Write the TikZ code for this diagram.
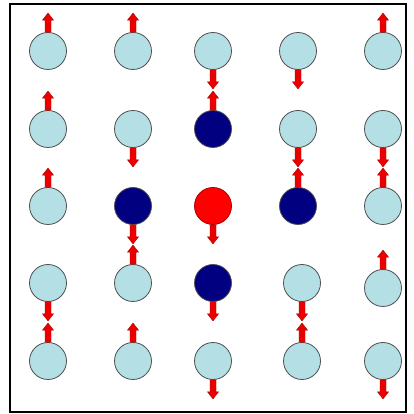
\documentclass[tikz,border=0pt]{standalone}
\usetikzlibrary{calc}
\definecolor{spinblue}{RGB}{180,223,228}
\definecolor{ringgrey}{RGB}{80,80,80}
\definecolor{navyspin}{RGB}{0,0,128}
\definecolor{arrred}{RGB}{235,0,0}
\definecolor{arredge}{RGB}{170,0,0}
\tikzset{
  site/.style={circle, draw=ringgrey, line width=0.8pt, fill=spinblue, minimum size=37pt, inner sep=0pt},
  dsite/.style={site, fill=navyspin},
  csite/.style={site, fill=red, draw=arredge},
  spinarrow/.style={fill=arrred, draw=arredge, line width=0.4pt, line join=miter},
}
\newcommand{\spinup}[1]{\draw[spinarrow] (#1.north) ++(-3,0) -- ++(0,12) -- ++(-2.5,0) -- ++(5.5,7) -- ++(5.5,-7) -- ++(-2.5,0) -- ++(0,-12) -- cycle;}
\newcommand{\spindown}[1]{\draw[spinarrow] (#1.south) ++(-3,0) -- ++(0,-12) -- ++(-2.5,0) -- ++(5.5,-7) -- ++(5.5,7) -- ++(-2.5,0) -- ++(0,12) -- cycle;}
\begin{document}
\begin{tikzpicture}[x=1pt,y=1pt]
\useasboundingbox (0,0) rectangle (413,414);
\draw[line width=1.3pt] (10,2) rectangle (406,410) ;
% row 1
\node[site] (a1) at (48,363) {};
\node[site] (a2) at (133,363) {};
\node[site] (a3) at (213,363) {};
\node[site] (a4) at (298,363) {};
\node[site] (a5) at (383,363) {};
% row 2
\node[site] (b1) at (48,285) {};
\node[site] (b2) at (133,285) {};
\node[dsite] (b3) at (213,285) {};
\node[site] (b4) at (298,285) {};
\node[site] (b5) at (383,285) {};
% row 3
\node[site] (c1) at (48,208) {};
\node[dsite] (c2) at (133,208) {};
\node[csite] (c3) at (213,208) {};
\node[dsite] (c4) at (298,208) {};
\node[site] (c5) at (383,208) {};
% row 4
\node[site] (d1) at (48,131) {};
\node[site] (d2) at (133,131) {};
\node[dsite] (d3) at (213,131) {};
\node[site] (d4) at (302,131) {};
\node[site] (d5) at (383,126) {};
% row 5
\node[site] (e1) at (48,53) {};
\node[site] (e2) at (133,53) {};
\node[site] (e3) at (213,53) {};
\node[site] (e4) at (302,53) {};
\node[site] (e5) at (383,53) {};
% spins
\spinup{a1} \spinup{a2} \spindown{a3} \spindown{a4} \spinup{a5}
\spinup{b1} \spindown{b2} \spinup{b3} \spindown{b4} \spindown{b5}
\spinup{c1} \spindown{c2} \spindown{c3} \spinup{c4} \spinup{c5}
\spindown{d1} \spinup{d2} \spindown{d3} \spindown{d4} \spinup{d5}
\spinup{e1} \spinup{e2} \spindown{e3} \spinup{e4} \spindown{e5}
\end{tikzpicture}
\end{document}
